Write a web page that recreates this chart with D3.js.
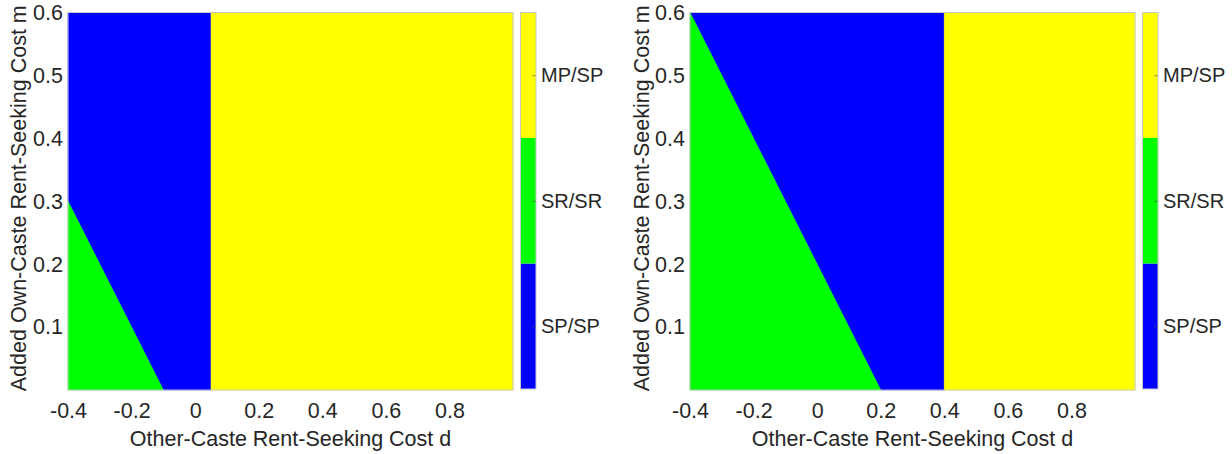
<!DOCTYPE html>
<html><head><meta charset="utf-8">
<script src="https://cdn.jsdelivr.net/npm/d3@7"></script>
<style>body{margin:0;background:#fff}svg{display:block}text{font-family:"Liberation Sans",Arial,sans-serif;fill:#262626}</style>
</head><body><svg id="c" width="1232" height="454"></svg>
<script>
// ---- data ----
const categories = ["SP/SP", "SR/SR", "MP/SP"];
const categoryColors = ["#0000ff", "#00ff00", "#ffff00"];
const xTicks = [-0.4, -0.2, 0, 0.2, 0.4, 0.6, 0.8];
const yTicks = [0.1, 0.2, 0.3, 0.4, 0.5, 0.6];
const xDomain = [-0.4, 1.0];
const yDomain = [0, 0.6];
// region polygons (d, m) for left panel
const leftSRSR = [[-0.4, 0], [-0.4, 0.3], [-0.1, 0]];
const leftSPSP = [[-0.4, 0.3], [-0.4, 0.6], [0.05, 0.6], [0.05, 0], [-0.1, 0]];
const leftMPSP = [[0.05, 0], [0.05, 0.6], [1.0, 0.6], [1.0, 0]];
// region polygons for right panel
const rightSRSR = [[-0.4, 0], [-0.4, 0.6], [0.2, 0]];
const rightSPSP = [[-0.4, 0.6], [0.4, 0.6], [0.4, 0], [0.2, 0]];
const rightMPSP = [[0.4, 0], [0.4, 0.6], [1.0, 0.6], [1.0, 0]];
const xLabel = "Other-Caste Rent-Seeking Cost d";
const yLabel = "Added Own-Caste Rent-Seeking Cost m";

(function () {
const panels = [
  {x0: 68, regions: [[leftSPSP, 0], [leftSRSR, 1], [leftMPSP, 2]], cbx: 520.5, ylabX: 18},
  {x0: 690, regions: [[rightSPSP, 0], [rightSRSR, 1], [rightMPSP, 2]], cbx: 1142.5, ylabX: 641}
];
const W = 445, yTop = 12.5, yBot = 390;
const svg = d3.select("#c");
const FF = "Liberation Sans, Arial, sans-serif";
const fmt = d => d === 0 ? "0" : d3.format(".1f")(d).replace("\u2212", "-");

panels.forEach(p => {
  const x = d3.scaleLinear().domain(xDomain).range([p.x0, p.x0 + W]);
  const y = d3.scaleLinear().domain(yDomain).range([yBot, yTop]);
  const g = svg.append("g");
  const line = d3.line().x(d => x(d[0])).y(d => y(d[1]));
  p.regions.forEach(([poly, ci]) => {
    g.append("path").attr("d", line(poly) + "Z")
      .attr("fill", categoryColors[ci]).attr("stroke", categoryColors[ci]).attr("stroke-width", 0.6);
  });
  g.append("rect").attr("x", p.x0).attr("y", yTop).attr("width", W).attr("height", yBot - yTop)
    .attr("fill", "none").attr("stroke", "#c8c8c8").attr("stroke-width", 1);

  const xa = g.append("g").attr("transform", `translate(0,${yBot})`)
    .call(d3.axisBottom(x).tickValues(xTicks).tickSize(0).tickPadding(13).tickFormat(fmt));
  xa.select(".domain").remove();
  xa.selectAll("text").attr("font-size", 21.5).attr("fill", "#262626").attr("font-family", FF);

  const ya = g.append("g").attr("transform", `translate(${p.x0},0)`)
    .call(d3.axisLeft(y).tickValues(yTicks).tickSize(0).tickPadding(5).tickFormat(fmt));
  ya.select(".domain").remove();
  ya.selectAll("text").attr("font-size", 21.5).attr("fill", "#262626").attr("font-family", FF);

  g.append("text").attr("x", p.x0 + W / 2).attr("y", 446).attr("text-anchor", "middle")
    .attr("font-size", 21.5).text(xLabel);
  g.append("text").attr("transform", `translate(${p.ylabX},${(yTop + yBot) / 2 - 3}) rotate(-90)`)
    .attr("text-anchor", "middle").attr("dy", "0.35em").attr("font-size", 21.5).text(yLabel);

  // colorbar
  const cb = d3.scaleBand().domain(d3.range(categories.length)).range([yBot - 1, yTop]);
  const cg = svg.append("g");
  cg.selectAll("rect.cell").data(categories).join("rect")
    .attr("x", p.cbx).attr("width", 15.5)
    .attr("y", (d, i) => cb(i)).attr("height", cb.bandwidth())
    .attr("fill", (d, i) => categoryColors[i]);
  cg.append("rect").attr("x", p.cbx).attr("y", yTop).attr("width", 15.5).attr("height", yBot - 1 - yTop)
    .attr("fill", "none").attr("stroke", "#c8c8c8").attr("stroke-width", 1);
  const ca = cg.append("g").attr("transform", `translate(${p.cbx + 15.5},0)`)
    .call(d3.axisRight(d3.scaleLinear().domain([0, categories.length]).range([yBot - 1, yTop]))
      .tickValues(categories.map((d, i) => i + 0.5)).tickSize(-4).tickPadding(5)
      .tickFormat((d, i) => categories[i]));
  ca.select(".domain").remove();
  ca.selectAll("line").attr("stroke", "#555").attr("stroke-width", 0.6);
  ca.selectAll("text").attr("font-size", 20).attr("fill", "#262626").attr("font-family", FF);
});
})();
</script></body></html>
